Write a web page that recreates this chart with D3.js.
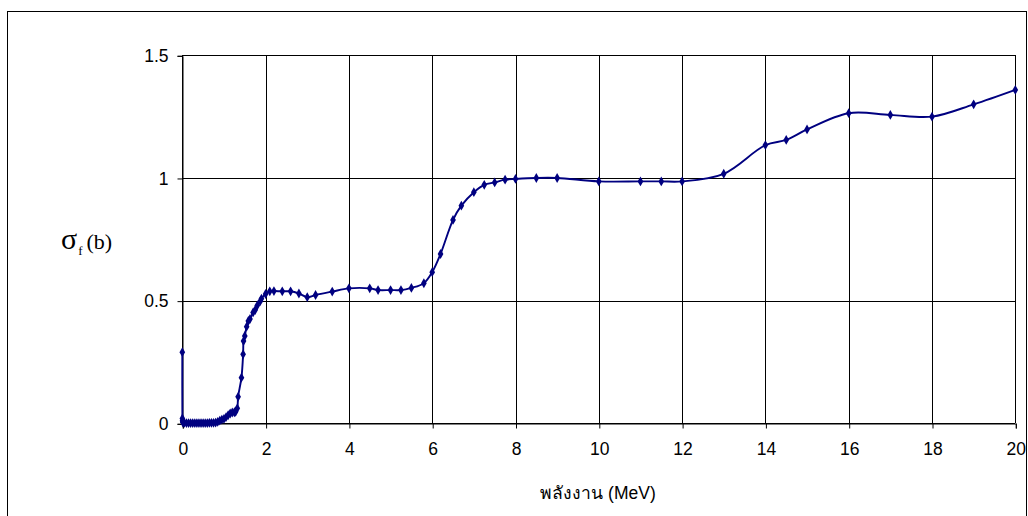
<!DOCTYPE html>
<html>
<head>
<meta charset="utf-8">
<script src="https://cdn.jsdelivr.net/npm/d3@7"></script>
<style>
  html, body { margin: 0; padding: 0; background: #fff; }
  svg { display: block; }
  .tick text { font-family: "Liberation Sans", Arial, sans-serif; font-size: 17.5px; fill: #000; }
</style>
</head>
<body>
<svg id="chart" width="1028" height="516"></svg>
<script>
// Neutron energy (MeV) and fission cross-section (barn)
const energy = [0, 0.002, 0.005, 0.01, 0.02, 0.05, 0.1, 0.15, 0.2, 0.25, 0.3, 0.35, 0.4, 0.45, 0.5,
  0.55, 0.6, 0.65, 0.7, 0.75, 0.8, 0.85, 0.9, 0.95, 1.0, 1.05, 1.1, 1.15, 1.2, 1.25, 1.28, 1.32,
  1.34, 1.42, 1.46, 1.47, 1.5, 1.545, 1.585, 1.625, 1.7, 1.75, 1.8, 1.87, 1.9, 2.0, 2.1, 2.2, 2.4,
  2.6, 2.8, 3.0, 3.2, 3.6, 4.0, 4.5, 4.7, 5.0, 5.25, 5.5, 5.8, 6.0, 6.2, 6.5, 6.7, 7.0, 7.25, 7.5,
  7.75, 8.0, 8.5, 9.0, 10, 11, 11.5, 12, 13, 14, 14.5, 15, 16, 17, 18, 19, 20];
const sigmaF = [0.29, 0.02, 0.01, 0.005, 0.003, 0.002, 0.001, 0.001, 0.001, 0.001, 0.001, 0.001, 0.001, 0.001, 0.001,
  0.001, 0.001, 0.002, 0.002, 0.002, 0.003, 0.006, 0.011, 0.015, 0.018, 0.025, 0.033, 0.04, 0.044, 0.045, 0.047, 0.061,
  0.108, 0.186, 0.281, 0.335, 0.356, 0.394, 0.417, 0.425, 0.452, 0.462, 0.48, 0.497, 0.508, 0.527, 0.538, 0.539, 0.538,
  0.538, 0.529, 0.514, 0.523, 0.537, 0.55, 0.55, 0.543, 0.543, 0.543, 0.552, 0.571, 0.616, 0.69, 0.829, 0.887, 0.942, 0.972, 0.982,
  0.993, 0.996, 1.0, 1.0, 0.986, 0.986, 0.986, 0.986, 1.017, 1.134, 1.155, 1.198, 1.264, 1.257, 1.25, 1.3, 1.359];
const xTicks = [0, 2, 4, 6, 8, 10, 12, 14, 16, 18, 20];
const yTicks = [0, 0.5, 1, 1.5];
const xTitle = "พลังงาน (MeV)";

const svg = d3.select("#chart");
const plot = { left: 182.3, right: 1015.3, top: 55.3, bottom: 423.3 };

// outer chart frame
svg.append("rect")
  .attr("x", 7.5).attr("y", 11.5)
  .attr("width", 1019).attr("height", 530)
  .attr("fill", "#fff").attr("stroke", "#000").attr("stroke-width", 1);

const x = d3.scaleLinear().domain([0, 20]).range([plot.left, plot.right]);
const y = d3.scaleLinear().domain([0, 1.5]).range([plot.bottom, plot.top]);

// gridlines
const grid = svg.append("g").attr("stroke", "#000").attr("stroke-width", 1).attr("shape-rendering", "crispEdges");
grid.selectAll("line.v").data(xTicks).join("line")
  .attr("x1", d => Math.round(x(d)) + 0.5).attr("x2", d => Math.round(x(d)) + 0.5)
  .attr("y1", plot.top).attr("y2", plot.bottom);
grid.selectAll("line.h").data(yTicks).join("line")
  .attr("x1", plot.left).attr("x2", plot.right)
  .attr("y1", d => Math.round(y(d)) + 0.5).attr("y2", d => Math.round(y(d)) + 0.5);

// axes
const xAxis = d3.axisBottom(x).tickValues(xTicks).tickSize(5).tickPadding(14).tickFormat(d3.format("d"));
svg.append("g")
  .attr("transform", `translate(0.5,${Math.round(y(0)) + 0.5})`)
  .call(xAxis)
  .call(g => g.select(".domain").attr("stroke", "#000"))
  .call(g => g.selectAll(".tick line").attr("stroke", "#000"));

const yAxis = d3.axisLeft(y).tickValues(yTicks).tickSize(5).tickPadding(9).tickFormat(d => String(d));
svg.append("g")
  .attr("transform", `translate(${Math.round(x(0)) + 0.5},0.5)`)
  .call(yAxis)
  .call(g => g.select(".domain").attr("stroke", "#000"))
  .call(g => g.selectAll(".tick line").attr("stroke", "#000"));

// series
const pts = energy.map((e, i) => [e, sigmaF[i]]);
const line = d3.line()
  .x(d => x(d[0])).y(d => y(d[1]))
  .curve(d3.curveCatmullRom.alpha(0.5));
svg.append("path")
  .datum(pts)
  .attr("d", line)
  .attr("fill", "none")
  .attr("stroke", "#000080")
  .attr("stroke-width", 1.9);

const marker = d3.symbol().type(d3.symbolDiamond).size(28);
svg.append("g").selectAll("path").data(pts).join("path")
  .attr("d", marker)
  .attr("transform", d => `translate(${x(d[0])},${y(d[1])})`)
  .attr("fill", "#000080");

// axis titles
const yt = svg.append("text")
  .attr("x", 61).attr("y", 249)
  .attr("font-family", "'Liberation Serif', 'Times New Roman', serif")
  .attr("font-size", 30)
  .attr("fill", "#000");
yt.append("tspan").text("σ");
yt.append("tspan").attr("font-size", 13).attr("dy", 6).attr("dx", 1).text("f");
yt.append("tspan").attr("font-size", 22).attr("dy", -6).attr("dx", 4).text("(b)");

svg.append("text")
  .attr("x", 598).attr("y", 499)
  .attr("text-anchor", "middle")
  .attr("font-family", "'Liberation Sans', 'Noto Sans', 'DejaVu Sans', sans-serif")
  .attr("font-size", 17.5)
  .attr("fill", "#000")
  .text(xTitle);
</script>
</body>
</html>
